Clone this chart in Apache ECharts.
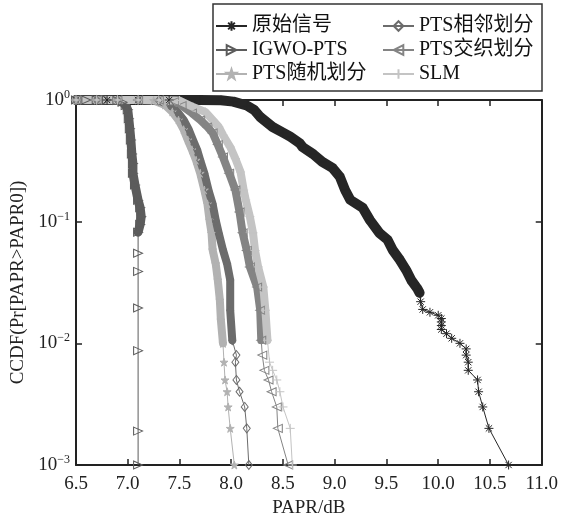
<!DOCTYPE html>
<html><head><meta charset="utf-8">
<script src="https://cdn.jsdelivr.net/npm/echarts@6/dist/echarts.min.js"></script>
<style>html,body{margin:0;padding:0;background:#fff}#c{width:561px;height:526px}</style>
</head><body><div id="c"></div>
<script>
// ---- data ----
const xTickLabels = ['6.5','7.0','7.5','8.0','8.5','9.0','9.5','10.0','10.5','11.0'];
const yTicks = [0.001, 0.01, 0.1, 1];
const names = ['原始信号','IGWO-PTS','PTS随机划分','PTS相邻划分','PTS交织划分','SLM'];

const original = [[6.5,1],[6.8,1],[7.1,1],[7.4,1],[7.7,1],[7.9,0.995],[8.02,0.97],[8.15,0.9],[8.22,0.83],[8.28,0.725],[8.4,0.6],[8.5,0.54],[8.57,0.5],[8.66,0.443],[8.69,0.41],[8.79,0.36],[8.88,0.31],[8.98,0.276],[9.05,0.233],[9.1,0.182],[9.15,0.151],[9.27,0.13],[9.34,0.103],[9.43,0.081],[9.51,0.071],[9.56,0.0585],[9.63,0.0484],[9.69,0.04],[9.74,0.033],[9.8,0.028],[9.82,0.026],[9.83,0.022],[9.85,0.019],[9.92,0.018],[10.0,0.017],[10.03,0.016],[10.03,0.015],[10.03,0.014],[10.03,0.013],[10.08,0.012],[10.13,0.011],[10.21,0.01],[10.27,0.009],[10.27,0.008],[10.29,0.007],[10.29,0.006],[10.38,0.005],[10.39,0.004],[10.43,0.003],[10.49,0.002],[10.68,0.001]];
const igwo = [[6.5,1],[6.6,1],[6.7,1],[6.8,1],[6.9,0.99],[6.95,0.96],[6.98,0.9],[7.0,0.83],[7.01,0.7],[7.02,0.58],[7.03,0.47],[7.04,0.36],[7.05,0.3],[7.05,0.25],[7.07,0.2],[7.1,0.15],[7.12,0.13],[7.13,0.11],[7.12,0.095],[7.1,0.082],[7.1,0.055],[7.1,0.039],[7.1,0.0195],[7.1,0.0087],[7.1,0.0019],[7.1,0.001]];
const ptsRandom = [[6.5,1],[6.7,1],[6.9,1],[7.1,1],[7.25,0.99],[7.36,0.91],[7.43,0.8],[7.49,0.685],[7.54,0.57],[7.58,0.47],[7.62,0.39],[7.66,0.32],[7.7,0.25],[7.74,0.182],[7.77,0.14],[7.79,0.103],[7.81,0.08],[7.82,0.0585],[7.85,0.045],[7.87,0.0331],[7.89,0.0226],[7.9,0.0155],[7.92,0.01],[7.93,0.007],[7.94,0.005],[7.96,0.004],[7.97,0.003],[7.99,0.002],[8.03,0.001]];
const ptsAdjacent = [[6.5,1],[6.7,1],[6.9,1],[7.1,1],[7.3,0.99],[7.41,0.91],[7.48,0.8],[7.54,0.685],[7.59,0.57],[7.63,0.47],[7.67,0.39],[7.7,0.32],[7.74,0.25],[7.78,0.182],[7.82,0.14],[7.85,0.103],[7.88,0.08],[7.92,0.0585],[7.96,0.045],[7.99,0.0331],[7.99,0.0187],[8.01,0.0106],[8.05,0.008],[8.04,0.007],[8.05,0.005],[8.08,0.004],[8.13,0.003],[8.15,0.002],[8.17,0.001]];
const ptsInterleaved = [[6.5,1],[6.7,1],[6.9,1],[7.1,1],[7.3,1],[7.45,0.97],[7.52,0.9],[7.62,0.78],[7.7,0.685],[7.77,0.6],[7.82,0.536],[7.87,0.43],[7.92,0.34],[7.98,0.25],[8.04,0.182],[8.08,0.12],[8.11,0.081],[8.15,0.058],[8.18,0.0425],[8.25,0.029],[8.28,0.0187],[8.29,0.0106],[8.3,0.008],[8.32,0.006],[8.36,0.005],[8.39,0.004],[8.44,0.003],[8.45,0.002],[8.55,0.001]];
const slm = [[6.5,1],[6.7,1],[6.9,1],[7.1,1],[7.3,1],[7.5,0.99],[7.63,0.876],[7.75,0.797],[7.82,0.685],[7.88,0.6],[7.92,0.516],[7.99,0.411],[8.04,0.33],[8.09,0.256],[8.12,0.182],[8.14,0.151],[8.18,0.11],[8.21,0.081],[8.23,0.058],[8.26,0.0425],[8.31,0.029],[8.33,0.0187],[8.35,0.0106],[8.37,0.007],[8.4,0.006],[8.44,0.005],[8.47,0.004],[8.5,0.003],[8.57,0.002],[8.59,0.001]];

// number of leading points that are so dense the markers merge into a band
const denseCounts = [31, 20, 23, 22, 22, 23];

// ---- styles ----
const serif = '"Liberation Serif","Times New Roman","Noto Sans CJK SC",serif';
const colors = ['#262626','#5c5c5c','#b2b2b2','#6c6c6c','#848484','#c4c4c4'];
const symbols = [
  'path://M5,0L5,10M0,5L10,5M1.5,1.5L8.5,8.5M8.5,1.5L1.5,8.5',
  'path://M0,0L10,5L0,10Z',
  'path://M5,0L6.2,3.6L10,3.6L6.9,5.9L8.1,9.5L5,7.3L1.9,9.5L3.1,5.9L0,3.6L3.8,3.6Z',
  'diamond',
  'path://M10,0L0,5L10,10Z',
  'path://M5,0L5,10M0,5L10,5'
];
const symSizes = [9, [9,8], 8, [7,9], [9,8], 9];
const fills = ['#262626','none','#b2b2b2','none','none','#c4c4c4'];
const bandWidths = [10, 9, 8, 8, 8, 8];
const datasets = [original, igwo, ptsRandom, ptsAdjacent, ptsInterleaved, slm];

const series = [];
datasets.forEach((d, i) => {
  series.push({
    name: names[i] + '_band', type: 'line', data: d.slice(0, denseCounts[i]),
    showSymbol: false, symbol: 'none', clip: false, silent: true,
    lineStyle: {color: colors[i], width: bandWidths[i], join: 'round', cap: 'round'},
    itemStyle: {color: colors[i]}
  });
  series.push({
    name: names[i], type: 'line', data: d, clip: false,
    symbol: symbols[i], symbolSize: symSizes[i], showAllSymbol: true,
    lineStyle: {color: colors[i], width: 1},
    itemStyle: {color: fills[i], borderColor: colors[i], borderWidth: 1}
  });
});

const axisCol = '#222';
const chart = echarts.init(document.getElementById('c'), null, {renderer: 'canvas'});
chart.setOption({
  animation: false,
  backgroundColor: '#fff',
  grid: {left: 76, right: 19, top: 100, bottom: 61},
  graphic: [{type: 'rect', shape: {x: 213, y: 4, width: 329, height: 87},
    style: {fill: '#fff', stroke: '#333', lineWidth: 1.5}, z: 90}],
  legend: [
    {data: names.slice(0,3), orient: 'vertical', left: 215, top: 16, padding: 0, itemGap: 4,
     itemWidth: 31, itemHeight: 12, z: 100,
     textStyle: {fontFamily: serif, fontSize: 20, color: '#111'}},
    {data: names.slice(3), orient: 'vertical', left: 382, top: 16, padding: 0, itemGap: 4,
     itemWidth: 31, itemHeight: 12, z: 100,
     textStyle: {fontFamily: serif, fontSize: 20, color: '#111'}}
  ],
  xAxis: [
    {type: 'value', min: 6.5, max: 11, interval: 0.5,
     name: 'PAPR/dB', nameLocation: 'middle', nameGap: 31,
     nameTextStyle: {fontFamily: serif, fontSize: 19, color: '#222'},
     axisLine: {lineStyle: {color: axisCol, width: 2}},
     axisTick: {inside: true, length: 6, lineStyle: {color: axisCol, width: 1.5}},
     axisLabel: {fontFamily: serif, fontSize: 19, color: '#222', margin: 10,
       formatter: v => xTickLabels[Math.round((v - 6.5) / 0.5)]},
     splitLine: {show: false}},
    {type: 'value', min: 6.5, max: 11, interval: 0.5, position: 'top',
     axisLine: {lineStyle: {color: axisCol, width: 2}},
     axisTick: {inside: true, length: 6, lineStyle: {color: axisCol, width: 1.5}},
     axisLabel: {show: false}, splitLine: {show: false}}
  ],
  yAxis: [
    {type: 'log', logBase: 10, min: yTicks[0], max: yTicks[yTicks.length-1],
     name: 'CCDF(Pr[PAPR>PAPR0])', nameLocation: 'middle', nameGap: 42, nameRotate: 90,
     nameTextStyle: {fontFamily: serif, fontSize: 19, color: '#222'},
     axisLine: {show: true, lineStyle: {color: axisCol, width: 2}},
     axisTick: {show: true, inside: true, length: 6, lineStyle: {color: axisCol, width: 1.5}},
     axisLabel: {margin: 6, formatter: v => {
        const e = Math.round(Math.log10(v));
        return '{b|10}{s|' + (e === 0 ? '0' : '\u2212' + (-e)) + '}';
      },
      rich: {b: {fontFamily: serif, fontSize: 19, color: '#222'},
             s: {fontFamily: serif, fontSize: 12, color: '#222', padding: [0,0,10,0]}}},
     splitLine: {show: false}, minorTick: {show: false}},
    {type: 'log', logBase: 10, min: yTicks[0], max: yTicks[yTicks.length-1], position: 'right',
     axisLine: {show: true, lineStyle: {color: axisCol, width: 2}},
     axisTick: {show: true, inside: true, length: 6, lineStyle: {color: axisCol, width: 1.5}},
     axisLabel: {show: false}, splitLine: {show: false}}
  ],
  series: series
});
</script></body></html>
